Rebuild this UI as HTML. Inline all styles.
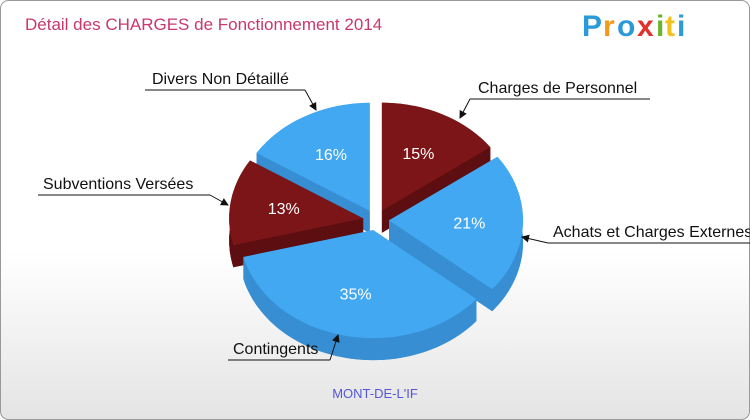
<!DOCTYPE html>
<html><head><meta charset="utf-8"><style>
html,body{margin:0;padding:0;width:750px;height:420px;overflow:hidden;background:#fff}
svg{display:block}
text{font-family:"Liberation Sans",sans-serif}
</style></head><body>
<svg id="c" width="750" height="420" viewBox="0 0 750 420" xmlns="http://www.w3.org/2000/svg">
<defs>
<linearGradient id="bg" x1="0" y1="0" x2="0" y2="1"><stop offset="0" stop-color="#ffffff"/><stop offset="0.6" stop-color="#ffffff"/><stop offset="1" stop-color="#e4e4e4"/></linearGradient>
<marker id="ar" markerWidth="8" markerHeight="8" refX="7" refY="4" orient="auto" markerUnits="userSpaceOnUse"><path d="M0,0 L8,4 L0,8 z" fill="#111"/></marker>
</defs>
<rect x="0.5" y="0.5" width="749" height="419" rx="8" fill="url(#bg)" stroke="#999"/>
<text x="25" y="30" font-size="17" fill="#c8386e">Détail des CHARGES de Fonctionnement 2014</text>
<g font-size="30" font-weight="bold">
<text x="582" y="36" fill="#2a9ad8">P</text><text x="603" y="36" fill="#f39a1c">r</text><text x="617" y="36" fill="#2a9ad8">o</text><text x="637" y="36" fill="#e2312b">x</text><text x="656" y="36" fill="#6ab52d">i</text><text x="665" y="36" fill="#f3c11c">t</text><text x="677" y="36" fill="#2a9ad8">i</text>
</g>
<g id="pie"></g>
<g id="labels"></g>
<text x="375" y="398" font-size="13" fill="#5555dd" text-anchor="middle">MONT-DE-L'IF</text>
</svg>
<script>
const categories=["Charges de Personnel","Achats et Charges Externes","Contingents","Subventions Versées","Divers Non Détaillé"];
const values=[15,21,35,13,16];
const pctLabels=["15%","21%","35%","13%","16%"];
const colorsTop=["#7b1518","#42a8f2","#42a8f2","#7b1518","#42a8f2"];
const colorsSide=["#5c0e10","#378ed2","#378ed2","#5c0e10","#378ed2"];
const NS="http://www.w3.org/2000/svg";
const cx=376,cy=220,rx=134,ry=108,depth=22,explode=13;
const pie=document.getElementById('pie');
const total=values.reduce((a,b)=>a+b,0);
function pt(x0,y0,a,k){return [x0+rx*k*Math.cos(a),y0+ry*k*Math.sin(a)];}
let start=-Math.PI/2;const slices=[];
values.forEach((v,i)=>{const a1=start,a2=start+v/total*2*Math.PI;start=a2;const m=(a1+a2)/2;
 slices.push({i,a1,a2,m,ox:cx+explode*Math.cos(m),oy:cy+explode*0.8*Math.sin(m)});});
function arc(x0,y0,a1,a2,rev){const n=40;let s="";for(let k=0;k<=n;k++){const t=rev?a2-(a2-a1)*k/n:a1+(a2-a1)*k/n;const p=pt(x0,y0,t,1);s+=(k?"L":"")+p[0].toFixed(1)+","+p[1].toFixed(1);}return s;}
const order=[...slices].sort((a,b)=>Math.sin(a.m)-Math.sin(b.m));
order.forEach(s=>{
 const g=document.createElementNS(NS,'g');
 
 
 const side=colorsSide[s.i];
 const b=document.createElementNS(NS,'path');
 b.setAttribute('d',"M"+s.ox+","+(s.oy+depth)+"L"+arc(s.ox,s.oy+depth,s.a1,s.a2,false)+"Z");b.setAttribute('fill',side);g.appendChild(b);
 [s.a1,s.a2].forEach(a=>{const p=pt(s.ox,s.oy,a,1);const w=document.createElementNS(NS,'path');
  w.setAttribute('d',`M${s.ox},${s.oy}L${p[0]},${p[1]}L${p[0]},${p[1]+depth}L${s.ox},${s.oy+depth}Z`);w.setAttribute('fill',side);g.appendChild(w);});
 const o=document.createElementNS(NS,'path');
 o.setAttribute('d',"M"+arc(s.ox,s.oy,s.a1,s.a2,false)+"L"+arc(s.ox,s.oy+depth,s.a1,s.a2,true)+"Z");o.setAttribute('fill',side);g.appendChild(o);
 const t=document.createElementNS(NS,'path');
 t.setAttribute('d',"M"+s.ox+","+s.oy+"L"+arc(s.ox,s.oy,s.a1,s.a2,false)+"Z");t.setAttribute('fill',colorsTop[s.i]);g.appendChild(t);
 const p=pt(s.ox,s.oy,s.m,0.6);const tx=document.createElementNS(NS,'text');
 tx.setAttribute('x',p[0]);tx.setAttribute('y',p[1]+6);tx.setAttribute('fill','#fff');tx.setAttribute('font-size','16');tx.setAttribute('text-anchor','middle');
 
 
 tx.textContent=pctLabels[s.i];g.appendChild(tx);
 pie.appendChild(g);
});
const callouts=[
 [478,93,470,650,460,118,470],
 [553,237,548,750,522,237,548],
 [233,354,228,330,338,335,330],
 [43,189,38,210,228,205,210],
 [152,84,145,305,316,110,305]];
const lg=document.getElementById('labels');
callouts.forEach((c,i)=>{
 const l=document.createElementNS(NS,'path');
 l.setAttribute('d',`M${c[2]},${c[1]+6}L${c[3]},${c[1]+6}M${c[6]},${c[1]+6}L${c[4]},${c[5]}`);
 l.setAttribute('stroke','#111');l.setAttribute('fill','none');l.setAttribute('marker-end','url(#ar)');
 
 
 lg.appendChild(l);
 const t=document.createElementNS(NS,'text');
 t.setAttribute('x',c[0]);t.setAttribute('y',c[1]);t.setAttribute('font-size','16');t.setAttribute('fill','#111');
 
 
 t.textContent=categories[i];lg.appendChild(t);
});
</script>
</body></html>
